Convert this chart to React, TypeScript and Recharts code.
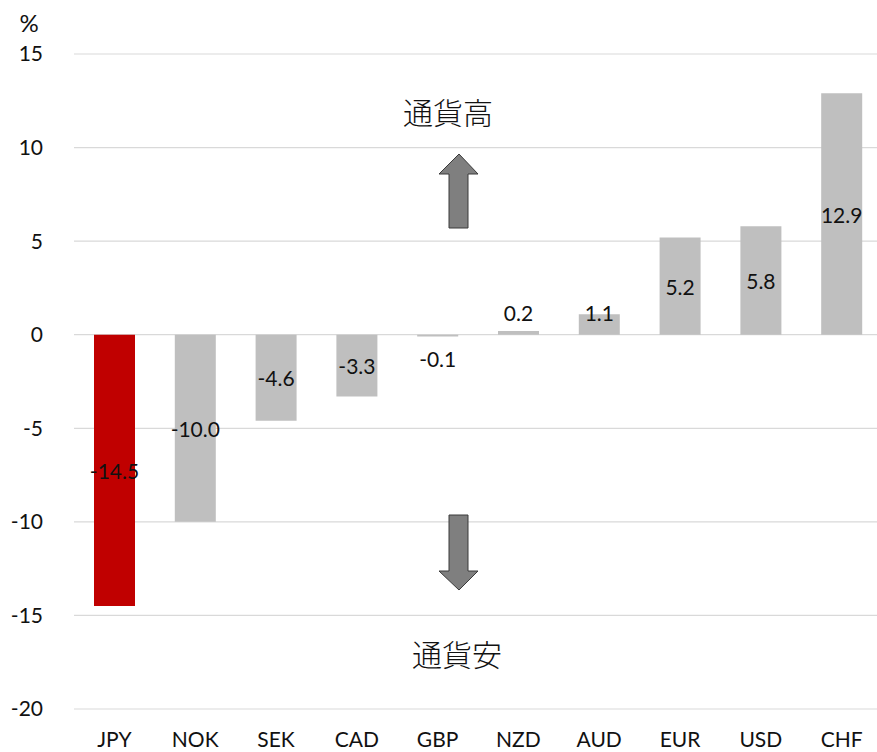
import { BarChart, Bar, XAxis, YAxis, CartesianGrid, Cell, LabelList } from "recharts";

const currencies = ["JPY", "NOK", "SEK", "CAD", "GBP", "NZD", "AUD", "EUR", "USD", "CHF"];
const changes = [-14.5, -10.0, -4.6, -3.3, -0.1, 0.2, 1.1, 5.2, 5.8, 12.9];
const yTicks = [-20, -15, -10, -5, 0, 5, 10, 15];

const data = currencies.map((cur, i) => ({ cur, value: changes[i] }));

const FONT = "Lato, 'Noto Sans', sans-serif";
const JP_FONT = "'Noto Sans CJK JP', sans-serif";

// value labels sit in the middle of the bar, or just outside it when the bar is too short
const ValueLabel = (props: any) => {
  const { x, y, width, height, value } = props;
  const top = Math.min(y, y + height);
  const h = Math.abs(height);
  let cy = top + h / 2;
  if (h < 24) {
    cy = value >= 0 ? top + h - 22 : top + 24;
  }
  return (
    <text
      x={x + width / 2}
      y={cy}
      textAnchor="middle"
      dominantBaseline="central"
      fontFamily={FONT}
      fontSize={21}
      fill="#111"
    >
      {value.toFixed(1)}
    </text>
  );
};

export default function App() {
  return (
    <div style={{ position: "absolute", left: 0, top: 0, width: 877, height: 752, overflow: "hidden", background: "#fff" }}>
      <BarChart
        width={884}
        height={752}
        data={data}
        margin={{ top: 54, right: 2, bottom: 0, left: 0 }}
        barSize={41}
      >
        <CartesianGrid vertical={false} stroke="#d9d9d9" strokeWidth={1.2} />
        <XAxis
          dataKey="cur"
          axisLine={false}
          tickLine={false}
          tickSize={0}
          tickMargin={23}
          height={43}
          interval={0}
          tick={{ fontFamily: FONT, fontSize: 21, fill: "#111" }}
        />
        <YAxis
          domain={[-20, 15]}
          ticks={yTicks}
          axisLine={false}
          tickLine={false}
          tickSize={0}
          tickMargin={31}
          width={74}
          tick={{ fontFamily: FONT, fontSize: 21, fill: "#111" }}
        />
        <Bar dataKey="value" isAnimationActive={false}>
          {data.map((d) => (
            <Cell key={d.cur} fill={d.cur === "JPY" ? "#c00000" : "#bfbfbf"} />
          ))}
          <LabelList dataKey="value" content={ValueLabel} />
        </Bar>
      </BarChart>

      <svg
        width={877}
        height={752}
        style={{ position: "absolute", left: 0, top: 0, pointerEvents: "none" }}
      >
        <text x={29} y={22} textAnchor="middle" dominantBaseline="central" fontFamily={FONT} fontSize={24} fill="#111">
          %
        </text>
        <text x={448} y={111} textAnchor="middle" dominantBaseline="central" fontFamily={JP_FONT} fontWeight={300} fontSize={30} fill="#111">
          通貨高
        </text>
        <text x={457} y={653} textAnchor="middle" dominantBaseline="central" fontFamily={JP_FONT} fontWeight={300} fontSize={30} fill="#111">
          通貨安
        </text>
        {/* up / down arrows */}
        <polygon
          points="459,154 478,174 468,174 468,228 449,228 449,174 439,174"
          fill="#7f7f7f"
          stroke="#3a3a3a"
          strokeWidth={1}
        />
        <polygon
          points="449,515 468,515 468,571 478,571 459,590 439,571 449,571"
          fill="#7f7f7f"
          stroke="#3a3a3a"
          strokeWidth={1}
        />
      </svg>
    </div>
  );
}
